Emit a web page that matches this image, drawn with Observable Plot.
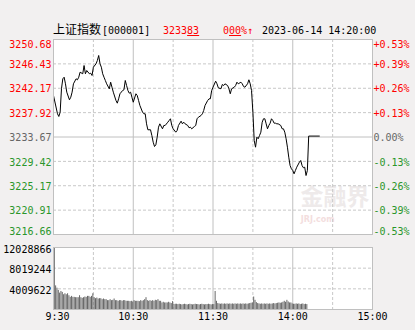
<!DOCTYPE html>
<html><head><meta charset="utf-8">
<script src="https://cdn.jsdelivr.net/npm/d3@7"></script>
<script src="https://cdn.jsdelivr.net/npm/@observablehq/plot@0.6"></script>
<style>
body{margin:0;background:#f2f0f0;}
#wrap{position:relative;width:415px;height:330px;overflow:hidden;background:#f2f0f0;}
.h{position:absolute;white-space:pre;font-family:"DejaVu Sans Mono",monospace;font-size:10px;line-height:10px;top:26px;}
.cjk{font-family:"Noto Sans CJK SC",sans-serif;font-size:12px;line-height:12px;top:23px;}
.red{color:#ff0000;}
u{text-decoration:underline;}
</style></head><body>
<div id="wrap">
<div id="topPanel" style="position:absolute;left:0;top:0"></div>
<div id="botPanel" style="position:absolute;left:0;top:240px"></div>
<div id="hdr"></div>
</div>
<script>
// ---- data ----
const titleName = "上证指数";
const titleCode = "[000001]";
const lastPriceMain = "3233", lastPriceFrac = "83";
const changeMain = "0", changeFrac = "00", changeTail = "%↑";
const timestamp = "2023-06-14 14:20:00";
const prevClose = 3233.67;

const priceMinutes = [0,3,4,5,6,7,8,9,10,12,13,14,15,17,18,19,20,22,23,24,25,27,28,29,30,32,33,34,35,36,37,38,39,40,42,43,44,45,47,48,49,50,52,53,54,55,56,57,58,59,60,62,63,64,65,67,68,69,70,71,73,74,75,76,77,78,79,80,82,83,84,86,87,88,89,90,92,93,94,96,97,98,99,101,102,103,104,106,107,108,109,111,112,113,114,116,117,118,119,120,122,123,124,126,127,128,129,131,132,133,134,136,137,138,139,141,142,143,144,146,147,148,149,150,151,152,153,154,155,156,157,158,159,160,161,162,163,164,165,166,167,168,169,171,172,173,174,175,176,177,178,179,180,181,182,183,185,186,187,188,189,190,191,192,200];
const prices = [3240.91,3237.72,3237.25,3238.00,3242.08,3243.82,3244.10,3242.95,3241.49,3240.16,3240.61,3241.49,3242.95,3243.82,3243.65,3244.10,3244.98,3244.70,3246.14,3244.70,3245.27,3244.70,3244.80,3244.40,3245.85,3246.44,3247.02,3247.89,3246.44,3245.85,3244.70,3244.10,3243.53,3242.95,3242.08,3243.23,3242.36,3241.49,3240.04,3239.57,3240.33,3241.21,3241.78,3241.90,3243.53,3242.65,3241.78,3241.31,3241.49,3240.61,3239.74,3241.21,3240.91,3240.04,3239.17,3238.00,3237.72,3237.72,3235.97,3234.93,3234.93,3233.93,3232.76,3232.01,3232.31,3233.64,3235.38,3235.97,3235.10,3235.68,3235.68,3236.25,3236.55,3236.85,3235.68,3235.10,3234.51,3234.80,3235.68,3236.43,3235.97,3236.25,3235.97,3235.68,3235.28,3235.38,3235.10,3235.50,3235.68,3236.85,3237.12,3237.42,3237.72,3238.29,3239.17,3240.04,3240.33,3240.33,3241.78,3242.36,3243.41,3242.95,3242.25,3242.08,3242.83,3242.65,3242.95,3242.65,3242.08,3241.21,3242.08,3242.36,3242.65,3243.23,3242.95,3243.23,3242.95,3242.48,3242.36,3242.95,3243.65,3242.95,3241.78,3238.00,3233.06,3231.89,3233.64,3233.36,3233.93,3234.51,3236.25,3236.85,3236.85,3235.97,3235.10,3235.68,3236.08,3236.85,3236.55,3236.08,3236.08,3235.97,3235.97,3235.68,3235.10,3235.10,3234.51,3233.36,3231.89,3230.15,3228.70,3228.12,3227.83,3227.25,3227.83,3228.40,3229.27,3229.57,3228.70,3228.30,3228.40,3226.95,3227.83,3233.83,3233.83];

// volume per minute, starting 9:30
const volumes = [12028866,
4582000,4137000,3691000,3182000,3500000,3310000,2864000,3055000,2864000,3055000,
2673000,2355000,2546000,2355000,2355000,2291000,2291000,2291000,2673000,2291000,
2164000,2291000,2419000,2355000,2546000,2546000,2355000,2546000,3055000,2291000,
2100000,2228000,2037000,2100000,2100000,1909000,2037000,1909000,1909000,1718000,
1718000,1909000,1718000,1782000,2037000,1718000,1718000,1591000,1718000,1718000,
1591000,1718000,1718000,1591000,1591000,1591000,1527000,1591000,1464000,1718000,
1591000,1591000,1591000,1527000,1718000,1591000,1718000,1909000,2291000,1718000,
1591000,1718000,1591000,1718000,1591000,1782000,1718000,1909000,1591000,1591000,
1273000,1400000,1273000,1273000,1273000,1400000,1273000,1146000,1527000,955000,
1018000,1018000,955000,1018000,955000,891000,955000,1018000,955000,891000,
955000,1018000,955000,891000,955000,1018000,955000,955000,891000,955000,
1018000,955000,891000,955000,955000,1018000,955000,891000,955000,955000,
3500000,1591000,1146000,1082000,1018000,1082000,1018000,1082000,1018000,1082000,
1018000,1082000,1018000,1082000,1018000,1082000,1018000,1082000,1018000,1082000,
1018000,1082000,1018000,1082000,1018000,1082000,1146000,1210000,1273000,2418000,
1782000,1337000,1146000,1082000,1018000,1082000,1018000,1082000,1018000,1082000,
1018000,1082000,1018000,1082000,1146000,1082000,1146000,1210000,1273000,1210000,
1273000,1400000,1591000,1400000,1782000,1464000,1273000,1273000,1082000,1018000,
1018000,1082000,1018000,1082000,955000,1018000,1082000,955000,1018000,955000];

const priceTicks = [3250.68,3246.43,3242.17,3237.92,3233.67,3229.42,3225.17,3220.91,3216.66];
const pctLabels = ["+0.53%","+0.39%","+0.26%","+0.13%","0.00%","-0.13%","-0.26%","-0.39%","-0.53%"];
const volTicks = [12028866,8019244,4009622];
const timeTicks = [0,60,120,180,240];
const timeLabels = ["9:30","10:30","11:30","14:00","15:00"];
const dashedMinutes = [30,90,150,210];
const solidMinutes = [60,120,180];

// ---- header ----
const hdr = document.getElementById("hdr");
hdr.innerHTML =
  `<div class="h cjk" style="left:53px">${titleName}</div>` +
  `<div class="h" style="left:102px">${titleCode}</div>` +
  `<div class="h red" style="left:163px">${lastPriceMain}<u>${lastPriceFrac}</u></div>` +
  `<div class="h red" style="left:223px">${changeMain}<u>${changeFrac}</u>${changeTail}</div>` +
  `<div class="h" style="left:262px">${timestamp}</div>`;

// ---- charts ----
const FONT = "DejaVu Sans Mono";
const GRID = "#c8c8c8", FRAME = "#c0c0c0";
const colorOf = v => v > prevClose + 0.001 ? "#ff0000" : (v < prevClose - 0.001 ? "#2a962a" : "#666666");
const tickData = priceTicks.map((v, i) => ({v, i, pct: pctLabels[i], c: colorOf(v)}));
const priceData = priceMinutes.map((m, i) => ({m, p: prices[i]}));
const volData = volumes.map((v, m) => ({m, v}));

const topChart = Plot.plot({
  width: 415, height: 240,
  marginLeft: 53, marginRight: 43, marginTop: 39, marginBottom: 6,
  style: {background: "transparent", fontFamily: FONT, fontSize: "10px"},
  x: {domain: [0, 240], axis: null},
  y: {domain: [3216.66, 3250.68], axis: null},
  color: {type: "identity"},
  marks: [
    Plot.frame({fill: "white", stroke: null}),
    Plot.text(["金融界"], {frameAnchor: "bottom-right", dx: -3, dy: -30, fontSize: 23, fontWeight: "bold", fill: "#eeeaea", fontFamily: "Noto Sans CJK SC"}),
    Plot.text(["JRJ.com"], {frameAnchor: "bottom-right", dx: -38, dy: -13, fontSize: 8, fontWeight: "bold", fill: "#f3dede", fontFamily: "DejaVu Sans"}),
    Plot.ruleY(tickData.filter(d => d.i > 0 && d.i < 8 && d.i !== 4), {y: "v", stroke: GRID, strokeDasharray: "3,2"}),
    Plot.ruleY(tickData.filter(d => d.i === 4), {y: "v", stroke: FRAME}),
    Plot.ruleX(dashedMinutes, {stroke: GRID, strokeDasharray: "3,2"}),
    Plot.ruleX(solidMinutes, {stroke: FRAME}),
    Plot.line(priceData, {x: "m", y: "p", stroke: "black", strokeWidth: 1}),
    Plot.frame({stroke: FRAME}),
    Plot.text(tickData.filter(d => d.i > 0 && d.i < 8), {y: "v", text: d => d.v.toFixed(2), fill: "c", frameAnchor: "left", textAnchor: "end", dx: -2, dy: 1}),
    Plot.text(tickData.filter(d => d.i === 0), {y: "v", text: d => d.v.toFixed(2), fill: "c", frameAnchor: "left", textAnchor: "end", dx: -2, dy: 5}),
    Plot.text(tickData.filter(d => d.i === 8), {y: "v", text: d => d.v.toFixed(2), fill: "c", frameAnchor: "left", textAnchor: "end", dx: -2, dy: -3}),
    Plot.text(tickData.filter(d => d.i > 0 && d.i < 8), {y: "v", text: "pct", fill: "c", frameAnchor: "right", textAnchor: "start", dx: 1, dy: 1}),
    Plot.text(tickData.filter(d => d.i === 0), {y: "v", text: "pct", fill: "c", frameAnchor: "right", textAnchor: "start", dx: 1, dy: 5}),
    Plot.text(tickData.filter(d => d.i === 8), {y: "v", text: "pct", fill: "c", frameAnchor: "right", textAnchor: "start", dx: 1, dy: -3})
  ]
});
document.getElementById("topPanel").appendChild(topChart);

const botChart = Plot.plot({
  width: 415, height: 90,
  marginLeft: 53, marginRight: 43, marginTop: 7, marginBottom: 21,
  style: {background: "transparent", fontFamily: FONT, fontSize: "10px"},
  x: {domain: [0, 240], axis: null},
  y: {domain: [0, 12028866], axis: null},
  marks: [
    Plot.frame({fill: "white", stroke: null}),
    Plot.ruleY(volTicks.slice(1), {stroke: GRID, strokeDasharray: "3,2"}),
    Plot.ruleX(dashedMinutes, {stroke: GRID, strokeDasharray: "3,2"}),
    Plot.ruleX(solidMinutes, {stroke: FRAME}),
    Plot.ruleX(volData, {x: d => d.m + 0.6, y1: 0, y2: "v", stroke: "#666666", strokeWidth: 1}),
    Plot.frame({stroke: FRAME}),
    Plot.text(volTicks.slice(1), {y: d => d, text: d => String(d), frameAnchor: "left", textAnchor: "end", dx: -2, dy: 1.5, fill: "black"}),
    Plot.text(volTicks.slice(0, 1), {y: d => d, text: d => String(d), frameAnchor: "left", textAnchor: "end", dx: -2, dy: 2.5, fill: "black"}),
    Plot.text(timeTicks.slice(0, 1), {x: d => d, text: (d, i) => timeLabels[0], frameAnchor: "bottom", dy: 10, dx: 4, fill: "black"}),
    Plot.text(timeTicks.slice(1), {x: d => d, text: (d, i) => timeLabels[i + 1], frameAnchor: "bottom", dy: 10, fill: "black"})
  ]
});
document.getElementById("botPanel").appendChild(botChart);
</script>
</body></html>
